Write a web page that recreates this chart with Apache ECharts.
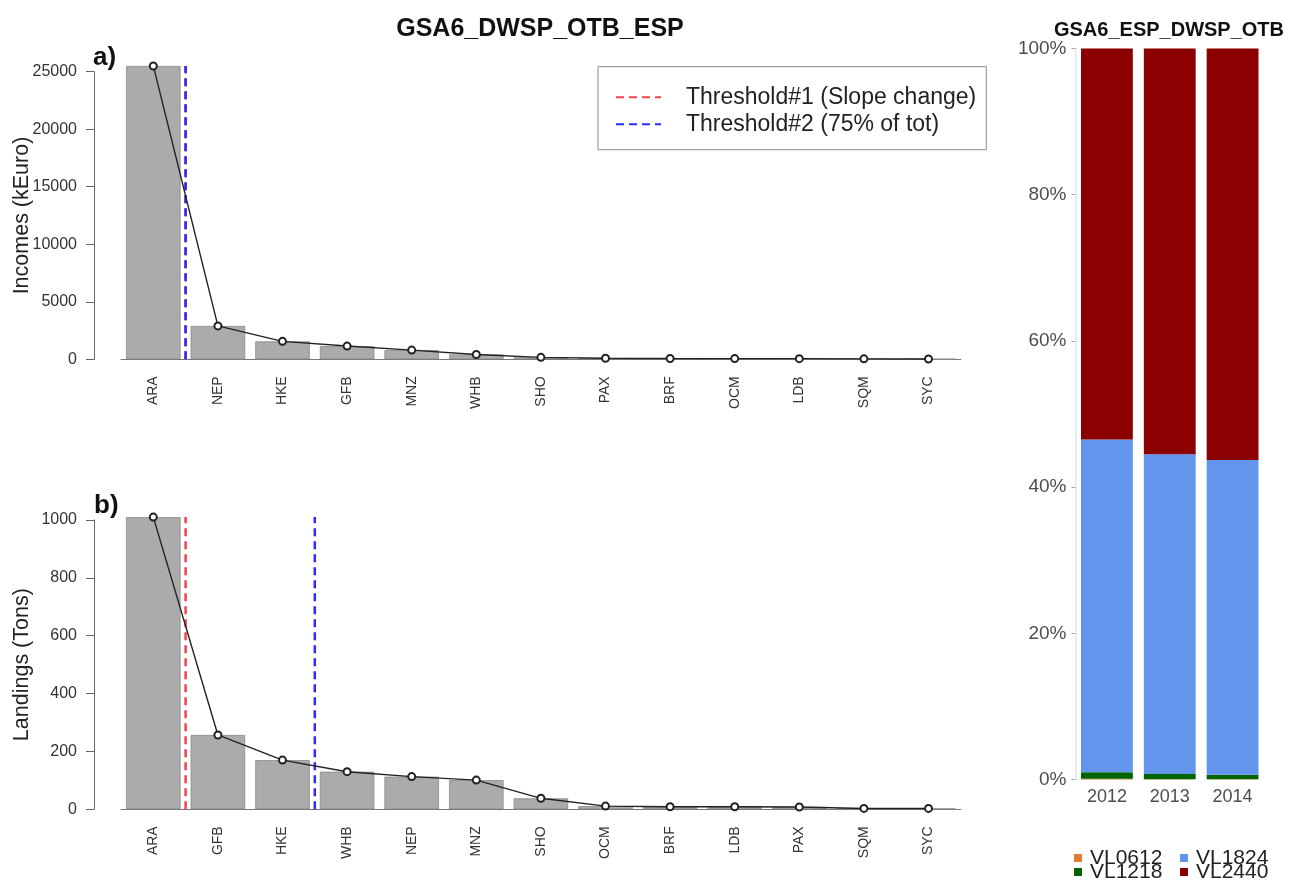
<!DOCTYPE html>
<html>
<head>
<meta charset="utf-8">
<title>GSA6_DWSP_OTB_ESP</title>
<script src="https://cdn.jsdelivr.net/npm/echarts@6.0.0/dist/echarts.min.js"></script>
<style>
  html, body { margin: 0; padding: 0; background: #ffffff; }
  #chart { width: 1292px; height: 884px; }
</style>
</head>
<body>
<div id="chart"></div>
<script>
// Panel a: incomes by species (kEuro), sorted decreasing
const speciesIncomes = ['ARA', 'NEP', 'HKE', 'GFB', 'MNZ', 'WHB', 'SHO', 'PAX', 'BRF', 'OCM', 'LDB', 'SQM', 'SYC'];
const incomes = [25500, 2900, 1560, 1150, 800, 420, 170, 90, 70, 60, 55, 40, 30];

// Panel b: landings by species (tons), sorted decreasing
const speciesLandings = ['ARA', 'GFB', 'HKE', 'WHB', 'NEP', 'MNZ', 'SHO', 'OCM', 'BRF', 'LDB', 'PAX', 'SQM', 'SYC'];
const landings = [1010, 257, 170, 130, 113, 101, 38, 11, 9, 9, 8, 3, 3];

// Number of leading species kept by each threshold rule
const slopeCutIncomes = 1;   // Threshold#1 (slope change)
const cumCutIncomes = 1;     // Threshold#2 (75% of total)
const slopeCutLandings = 1;
const cumCutLandings = 3;

// Right panel: share of landings by vessel length class (%)
const years = ['2012', '2013', '2014'];
const vl0612 = [0.1, 0.05, 0.05];
const vl1218 = [0.9, 0.7, 0.6];
const vl1824 = [45.5, 43.75, 43.05];
const vl2440 = [53.5, 55.5, 56.3];

// Tick settings
const incomeTicks = { min: 0, max: 25000, step: 5000 };
const landingTicks = { min: 0, max: 1000, step: 200 };
const shareTicks = { min: 0, max: 100, step: 20 };

const FONT = '"Liberation Sans", Arial, Helvetica, sans-serif';
const BAR_FILL = '#ababab';
const BAR_EDGE = '#8a8a8a';
const RED = '#f0434c';
const BLUE = '#2b2bff';

function leftValueAxis(gridIndex, ticks, name) {
  return {
    type: 'value', gridIndex: gridIndex,
    min: ticks.min, max: ticks.max, interval: ticks.step,
    offset: 27,
    axisLine: { show: true, onZero: false, lineStyle: { color: '#666', width: 1 } },
    axisTick: { show: true, length: 8, lineStyle: { color: '#666' } },
    axisLabel: { fontSize: 16, color: '#333', margin: 17, fontFamily: FONT,
                 formatter: function (v) { return String(v); } },
    splitLine: { show: false },
    name: name, nameLocation: 'middle', nameGap: 61, nameMoveOverlap: false,
    nameTextStyle: { fontSize: 21.5, color: '#222', fontFamily: FONT }
  };
}

function speciesAxis(gridIndex, cats) {
  return {
    type: 'category', gridIndex: gridIndex, data: cats,
    axisLine: { show: true, onZero: false, lineStyle: { color: '#777', width: 1 } },
    axisTick: { show: false },
    axisLabel: { rotate: 90, interval: 0, fontSize: 14, color: '#333', margin: 17, fontFamily: FONT }
  };
}

function cutAxis(gridIndex, n) {
  // value axis aligned with the category bands: band i spans [i-0.5, i+0.5]
  return { type: 'value', gridIndex: gridIndex, min: -0.5, max: n - 0.5, show: false };
}

function thresholdSeries(name, color, xAxisIndex, yAxisIndex, cut, top) {
  return {
    name: name, type: 'line', xAxisIndex: xAxisIndex, yAxisIndex: yAxisIndex,
    data: [[cut - 0.5, 0], [cut - 0.5, top]],
    symbol: 'none', clip: false, silent: true, z: 4,
    lineStyle: { color: color, width: 2.5, type: [8, 5] },
    itemStyle: { color: color }
  };
}

function barSeries(xAxisIndex, yAxisIndex, values) {
  return {
    type: 'bar', xAxisIndex: xAxisIndex, yAxisIndex: yAxisIndex, data: values,
    barCategoryGap: '15.6%', clip: false, z: 2,
    itemStyle: { color: BAR_FILL, borderColor: BAR_EDGE, borderWidth: 0.8 }
  };
}

function trendSeries(xAxisIndex, yAxisIndex, values) {
  return {
    type: 'line', xAxisIndex: xAxisIndex, yAxisIndex: yAxisIndex, data: values,
    symbol: 'emptyCircle', symbolSize: 7, clip: false, z: 6,
    lineStyle: { color: '#222', width: 1.4 },
    itemStyle: { color: '#222', borderWidth: 1.3 }
  };
}

function shareSeries(name, values, color) {
  return {
    name: name, type: 'bar', stack: 'fleet', xAxisIndex: 4, yAxisIndex: 2,
    data: values, barCategoryGap: '17.5%',
    itemStyle: { color: color }
  };
}

function fleetLegend(names, left) {
  return {
    data: names, orient: 'vertical', left: left, top: 847.5, height: 80,
    icon: 'rect', itemWidth: 8, itemHeight: 8, itemGap: -7, padding: 0,
    selectedMode: false,
    textStyle: { fontSize: 21, lineHeight: 15, color: '#222', fontFamily: FONT, padding: [0, 0, 0, 3] }
  };
}

const T1 = 'Threshold#1 (Slope change)';
const T2 = 'Threshold#2 (75% of tot)';

const option = {
  animation: false,
  backgroundColor: '#ffffff',
  textStyle: { fontFamily: FONT },
  title: [
    { text: 'GSA6_DWSP_OTB_ESP', left: 540, top: 17, textAlign: 'center', padding: 0,
      textStyle: { fontSize: 25, fontWeight: 'bold', color: '#111', fontFamily: FONT } },
    { text: 'GSA6_ESP_DWSP_OTB', left: 1169, top: 20, textAlign: 'center', padding: 0,
      textStyle: { fontSize: 20, fontWeight: 'bold', color: '#111', fontFamily: FONT } },
    { text: 'a)', left: 93, top: 45, padding: 0,
      textStyle: { fontSize: 26, fontWeight: 'bold', color: '#111', fontFamily: FONT } },
    { text: 'b)', left: 94, top: 493, padding: 0,
      textStyle: { fontSize: 26, fontWeight: 'bold', color: '#111', fontFamily: FONT } }
  ],
  legend: [
    {
      data: [T1, T2], orient: 'vertical', left: 598, top: 66.7,
      itemWidth: 45, itemHeight: 14, itemGap: 0,
      padding: [17, 10, 12, 17],
      borderColor: '#8a8a8a', borderWidth: 1,
      selectedMode: false,
      itemStyle: { opacity: 0 },
      textStyle: { fontSize: 23, lineHeight: 27, color: '#222', fontFamily: FONT, padding: [0, 0, 0, 20] }
    },
    fleetLegend(['VL0612', 'VL1218'], 1074),
    fleetLegend(['VL1824', 'VL2440'], 1180)
  ],
  grid: [
    { left: 121, top: 71.7, width: 839.8, height: 287.6, outerBoundsMode: 'none' },
    { left: 121, top: 520, width: 839.8, height: 289.3, outerBoundsMode: 'none' },
    { left: 1075.5, top: 48.5, width: 188.5, height: 731, outerBoundsMode: 'none' }
  ],
  xAxis: [
    speciesAxis(0, speciesIncomes),
    speciesAxis(1, speciesLandings),
    cutAxis(0, speciesIncomes.length),
    cutAxis(1, speciesLandings.length),
    {
      type: 'category', gridIndex: 2, data: years,
      axisLine: { show: false }, axisTick: { show: false },
      axisLabel: { fontSize: 18, color: '#4d4d4d', margin: 9, fontFamily: FONT }
    }
  ],
  yAxis: [
    leftValueAxis(0, incomeTicks, 'Incomes (kEuro)'),
    leftValueAxis(1, landingTicks, 'Landings (Tons)'),
    {
      type: 'value', gridIndex: 2,
      min: shareTicks.min, max: shareTicks.max, interval: shareTicks.step,
      axisLine: { show: true, onZero: false, lineStyle: { color: '#e2e2e2', width: 1.5 } },
      axisTick: { show: true, length: 4, lineStyle: { color: '#aaa' } },
      axisLabel: { fontSize: 19, color: '#4d4d4d', margin: 9, fontFamily: FONT, formatter: '{value}%' },
      splitLine: { show: false }
    }
  ],
  series: [
    barSeries(0, 0, incomes),
    thresholdSeries(T1, RED, 2, 0, slopeCutIncomes, Math.max(...incomes)),
    thresholdSeries(T2, BLUE, 2, 0, cumCutIncomes, Math.max(...incomes)),
    trendSeries(0, 0, incomes),

    barSeries(1, 1, landings),
    thresholdSeries(T1, RED, 3, 1, slopeCutLandings, Math.max(...landings)),
    thresholdSeries(T2, BLUE, 3, 1, cumCutLandings, Math.max(...landings)),
    trendSeries(1, 1, landings),

    shareSeries('VL0612', vl0612, '#e07b39'),
    shareSeries('VL1218', vl1218, '#006400'),
    shareSeries('VL1824', vl1824, '#6495ed'),
    shareSeries('VL2440', vl2440, '#8b0000')
  ]
};

const chart = echarts.init(document.getElementById('chart'), null, { renderer: 'canvas', width: 1292, height: 884 });
chart.setOption(option);
</script>
</body>
</html>
